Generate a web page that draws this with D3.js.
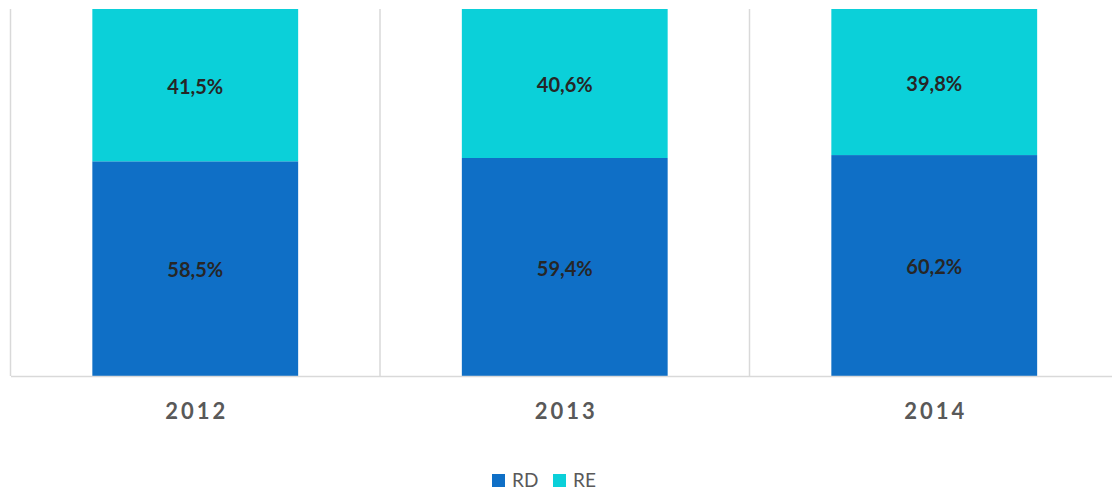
<!DOCTYPE html>
<html>
<head>
<meta charset="utf-8">
<script src="https://cdn.jsdelivr.net/npm/d3@7"></script>
<style>
  body { margin: 0; background: #fff; }
  svg { display: block; font-family: Lato, "Open Sans", sans-serif; }
</style>
</head>
<body>
<div class="chart"></div>
<script>
let years = ["2012", "2013", "2014"],
  rd = [58.5, 59.4, 60.2],
  re = [41.5, 40.6, 39.8],
  seriesNames = ["RD", "RE"],
  colors = ["#0F6FC6", "#0BD0D9"];

let w = 1112,
  h = 493,
  xLeft = 10.5,
  yTop = 9,
  yBottom = 376,
  band = 369.5;

let svg = d3.select(".chart")
  .append("svg")
  .attr("width", w)
  .attr("height", h);

let xScale = d3.scaleBand()
  .domain(years)
  .range([xLeft, xLeft + band * years.length])
  .paddingInner(0)
  .paddingOuter(0);

let yScale = d3.scaleLinear()
  .domain([0, 100])
  .range([yBottom, yTop]);

// stack RD at the bottom, RE on top
let rows = years.map((y, i) => ({year: y, RD: rd[i], RE: re[i]}));
let stacked = d3.stack().keys(seriesNames)(rows);

let barW = xScale.bandwidth() * 0.557;

// category separators
svg.append("g")
  .selectAll("line")
  .data(years)
  .enter()
  .append("line")
  .attr("x1", d => xScale(d))
  .attr("x2", d => xScale(d))
  .attr("y1", yTop)
  .attr("y2", yBottom)
  .attr("stroke", "#d9d9d9")
  .attr("stroke-width", 1.5);

let layers = svg.append("g")
  .selectAll("g")
  .data(stacked)
  .enter()
  .append("g")
  .attr("fill", (d, i) => colors[i]);

layers.selectAll("rect")
  .data(d => d)
  .enter()
  .append("rect")
  .attr("x", d => xScale(d.data.year) + (xScale.bandwidth() - barW) / 2)
  .attr("y", d => yScale(d[1]))
  .attr("width", barW)
  .attr("height", d => yScale(d[0]) - yScale(d[1]));

layers.selectAll("text")
  .data(d => d.map(p => ({p: p, key: d.key})))
  .enter()
  .append("text")
  .attr("x", d => xScale(d.p.data.year) + xScale.bandwidth() / 2)
  .attr("y", d => (yScale(d.p[0]) + yScale(d.p[1])) / 2 + 1.5)
  .attr("dy", "0.35em")
  .attr("text-anchor", "middle")
  .attr("fill", "#262626")
  .style("font-size", "20px")
  .style("font-weight", "bold")
  .text(d => d3.format(".1f")(d.p.data[d.key]).replace(".", ",") + "%");

// x axis
const xAxis = d3.axisBottom(xScale).tickSize(0).tickPadding(0);
let xAxisGroup = svg.append("g")
  .attr("transform", "translate(0," + yBottom + ")")
  .call(xAxis);
xAxisGroup.select(".domain")
  .attr("stroke", "#d9d9d9")
  .attr("stroke-width", 1.5);
xAxisGroup.selectAll("text")
  .attr("y", 35)
  .attr("dx", "1.5px")
  .attr("dy", "0.35em")
  .attr("fill", "#595959")
  .style("font-family", "Lato, sans-serif")
  .style("font-size", "22px")
  .style("font-weight", "bold")
  .style("letter-spacing", "3px");

// legend
let legend = svg.append("g")
  .attr("transform", "translate(492,474)");
let item = legend.selectAll("g")
  .data(seriesNames)
  .enter()
  .append("g")
  .attr("transform", (d, i) => "translate(" + i * 61 + ",0)");
item.append("rect")
  .attr("width", 13)
  .attr("height", 13)
  .attr("fill", (d, i) => colors[i]);
item.append("text")
  .attr("x", 20)
  .attr("y", 6.5)
  .attr("dy", "0.36em")
  .attr("fill", "#595959")
  .style("font-size", "19px")
  .text(d => d);
</script>
</body>
</html>
